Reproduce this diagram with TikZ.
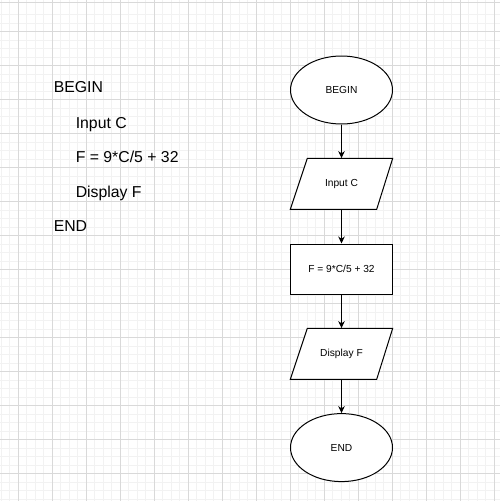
\documentclass[tikz,border=0pt]{standalone}
\usepackage{fontspec}
\setmainfont{Liberation Sans}
\usetikzlibrary{shapes.geometric,arrows.meta}
\begin{document}
\begin{tikzpicture}[x=1pt,y=-1pt,
  minorline/.style={draw=black!5,line width=0.8pt},
  majorline/.style={draw=black!15,line width=0.8pt},
  shapeline/.style={draw=black,line width=1pt},
  flowtext/.style={font=\fontsize{10.2}{12}\selectfont},
  codetext/.style={font=\fontsize{15.8}{18}\selectfont,anchor=base west,inner sep=0pt},
  flowarrow/.style={draw=black,line width=1pt,-{Stealth[length=7pt,width=6.5pt]}},
  termbox/.style={ellipse,shapeline,minimum width=102pt,minimum height=68pt,inner sep=0pt,flowtext},
  procbox/.style={rectangle,shapeline,minimum width=102.4pt,minimum height=50pt,inner sep=0pt,flowtext},
  iobox/.style={rectangle,minimum width=86pt,minimum height=51pt,inner sep=0pt,flowtext}]
\useasboundingbox (0,0) rectangle (500,501);
\fill[white] (0,0) rectangle (500,501);
% grid
\foreach \i in {-2,...,58} {
  \draw[minorline] (18.1+\i*8.5,0) -- (18.1+\i*8.5,501);
  \draw[minorline] (0,31.5+\i*8.5) -- (500,31.5+\i*8.5);
}
\foreach \i in {0,...,14} {
  \draw[majorline] (18.1+\i*34.0,0) -- (18.1+\i*34.0,501);
}
\foreach \i in {0,...,13} {
  \draw[majorline] (0,31.5+\i*34.0) -- (500,31.5+\i*34.0);
}
\draw[majorline] (0,2.7) -- (500,2.7);
% pseudocode
\node[codetext] (c1) at (53.6,92.7) {BEGIN};
\node[codetext] (c2) at (75.6,128.3) {Input C};
\node[codetext] (c3) at (75.6,162.7) {F = 9*C/5 + 32};
\node[codetext] (c4) at (75.6,197.7) {Display F};
\node[codetext] (c5) at (53.6,231.7) {END};
% flowchart
\fill[white] (307.3,158.3) -- (392.7,158.3) -- (376.7,209.3) -- (290.3,209.3) -- cycle;
\fill[white] (307.3,328.3) -- (392.7,328.3) -- (376.7,379.3) -- (290.3,379.3) -- cycle;
\node[termbox,fill=white] (b) at (341.5,90) {BEGIN};
\node[iobox] (in) at (341.5,183.8) {Input C};
\draw[shapeline,line join=miter] (307.3,158.3) -- (392.7,158.3) -- (376.7,209.3) -- (290.3,209.3) -- cycle;
\node[procbox,fill=white] (p) at (341.5,269) {F = 9*C/5 + 32};
\node[iobox] (out) at (341.5,353.8) {Display F};
\draw[shapeline,line join=miter] (307.3,328.3) -- (392.7,328.3) -- (376.7,379.3) -- (290.3,379.3) -- cycle;
\node[termbox,fill=white] (e) at (341.5,447.6) {END};
\draw[flowarrow] (b) -- (in);
\draw[flowarrow] (in) -- (p);
\draw[flowarrow] (p) -- (out);
\draw[flowarrow] (out) -- (e);
\end{tikzpicture}
\end{document}
